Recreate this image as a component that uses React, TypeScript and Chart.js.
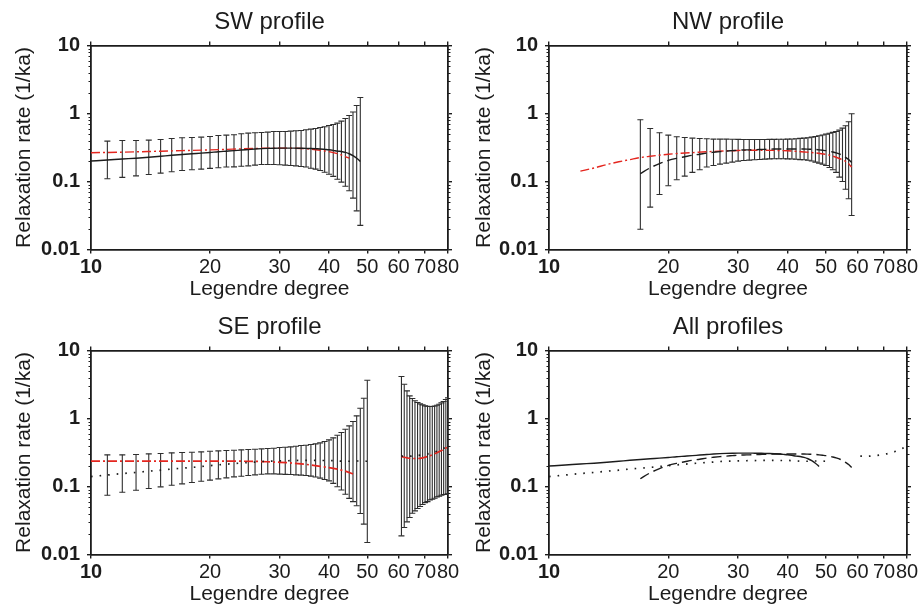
import React, { useEffect, useRef } from 'react';
import { Chart, registerables } from 'chart.js';

Chart.register(...registerables);

// ---------- tick labels ----------
const X_TICKS = [10, 20, 30, 40, 50, 60, 70, 80];
const Y_TICKS = [0.01, 0.1, 1, 10];
const Y_MINOR = [0.02, 0.03, 0.04, 0.05, 0.06, 0.07, 0.08, 0.09, 0.2, 0.3, 0.4, 0.5, 0.6, 0.7, 0.8, 0.9, 2, 3, 4, 5, 6, 7, 8, 9];

// ---------- SW profile ----------
const SW_deg = [10, 11, 12, 13, 14, 15, 16, 17, 18, 19, 20, 21, 22, 23, 24, 25, 26, 27, 28, 29, 30, 31, 32, 33, 34, 35, 36, 37, 38, 39, 40, 41, 42, 43, 44, 45, 46, 47, 48];
const SW_mean = [0.200, 0.207, 0.214, 0.220, 0.227, 0.235, 0.243, 0.250, 0.256, 0.261, 0.267, 0.274, 0.279, 0.284, 0.290, 0.295, 0.300, 0.304, 0.307, 0.309, 0.310, 0.310, 0.310, 0.309, 0.308, 0.307, 0.305, 0.303, 0.301, 0.297, 0.293, 0.287, 0.280, 0.276, 0.268, 0.256, 0.240, 0.220, 0.197];
const SW_hi = [null, 0.393, 0.401, 0.401, 0.406, 0.415, 0.429, 0.439, 0.444, 0.449, 0.460, 0.475, 0.481, 0.486, 0.503, 0.514, 0.520, 0.526, 0.532, 0.544, 0.544, 0.544, 0.550, 0.557, 0.563, 0.576, 0.589, 0.602, 0.623, 0.637, 0.667, 0.690, 0.722, 0.773, 0.845, 0.935, 1.05, 1.31, 1.72];
const SW_lo = [null, 0.110, 0.115, 0.121, 0.127, 0.133, 0.139, 0.145, 0.149, 0.152, 0.156, 0.159, 0.163, 0.164, 0.168, 0.170, 0.174, 0.178, 0.178, 0.178, 0.176, 0.174, 0.172, 0.170, 0.166, 0.163, 0.157, 0.152, 0.145, 0.137, 0.128, 0.119, 0.108, 0.098, 0.085, 0.073, 0.057, 0.037, 0.0226];
const SW_redDeg = [10, 12, 14, 16, 18, 20, 22, 24, 26, 28, 30, 32, 34, 36, 38, 40, 42, 44, 45];
const SW_red = [0.265, 0.270, 0.276, 0.282, 0.287, 0.292, 0.297, 0.302, 0.306, 0.309, 0.310, 0.309, 0.306, 0.299, 0.288, 0.274, 0.257, 0.232, 0.220];

// ---------- NW profile ----------
const NW_deg = [17, 18, 19, 20, 21, 22, 23, 24, 25, 26, 27, 28, 29, 30, 31, 32, 33, 34, 35, 36, 37, 38, 39, 40, 41, 42, 43, 44, 45, 46, 47, 48, 49, 50, 51, 52, 53, 54, 55, 56, 57, 58];
const NW_mean = [0.130, 0.159, 0.183, 0.204, 0.219, 0.231, 0.243, 0.252, 0.262, 0.269, 0.275, 0.280, 0.284, 0.288, 0.291, 0.292, 0.294, 0.296, 0.297, 0.299, 0.300, 0.301, 0.301, 0.301, 0.301, 0.300, 0.300, 0.300, 0.299, 0.298, 0.296, 0.292, 0.288, 0.284, 0.279, 0.272, 0.264, 0.254, 0.242, 0.226, 0.210, 0.190];
const NW_hi = [0.808, 0.602, 0.520, 0.481, 0.454, 0.444, 0.434, 0.429, 0.425, 0.420, 0.420, 0.420, 0.418, 0.416, 0.415, 0.414, 0.414, 0.414, 0.415, 0.416, 0.417, 0.418, 0.419, 0.420, 0.422, 0.426, 0.430, 0.434, 0.440, 0.449, 0.459, 0.470, 0.483, 0.497, 0.512, 0.528, 0.544, 0.569, 0.610, 0.660, 0.755, 0.990];
const NW_lo = [0.0199, 0.042, 0.0645, 0.0865, 0.106, 0.120, 0.136, 0.149, 0.163, 0.172, 0.180, 0.186, 0.193, 0.1995, 0.204, 0.206, 0.2085, 0.211, 0.213, 0.215, 0.216, 0.216, 0.216, 0.215, 0.214, 0.212, 0.210, 0.2085, 0.205, 0.200, 0.193, 0.186, 0.179, 0.172, 0.161, 0.149, 0.136, 0.116, 0.100, 0.077, 0.0557, 0.0316];
const NW_redDeg = [12, 13, 14, 15, 16, 17, 18, 19, 20, 22, 24, 26, 28, 30, 33, 36, 40, 44, 47, 50, 52, 54, 56, 57, 58];
const NW_red = [0.142, 0.158, 0.178, 0.195, 0.210, 0.225, 0.235, 0.244, 0.252, 0.262, 0.270, 0.277, 0.282, 0.286, 0.288, 0.287, 0.283, 0.272, 0.263, 0.250, 0.236, 0.218, 0.198, 0.182, 0.163];

// ---------- SE profile ----------
const SE_degL = [10, 11, 12, 13, 14, 15, 16, 17, 18, 19, 20, 21, 22, 23, 24, 25, 26, 27, 28, 29, 30, 31, 32, 33, 34, 35, 36, 37, 38, 39, 40, 41, 42, 43, 44, 45, 46, 47, 48, 49, 50];
const SE_meanL = [0.140, 0.1475, 0.155, 0.161, 0.168, 0.1736, 0.1807, 0.1858, 0.191, 0.1966, 0.2024, 0.208, 0.2128, 0.2177, 0.2214, 0.2253, 0.2288, 0.2329, 0.2355, 0.2368, 0.2384, 0.239, 0.2397, 0.2407, 0.2425, 0.2423, 0.2425, 0.2418, 0.2414, 0.2413, 0.2422, 0.240, 0.238, 0.236, 0.235, 0.235, 0.236, 0.237, 0.237, 0.236, 0.235];
const SE_hiL = [null, 0.292, 0.292, 0.295, 0.302, 0.305, 0.3125, 0.316, 0.319, 0.323, 0.3305, 0.334, 0.338, 0.342, 0.346, 0.350, 0.353, 0.3575, 0.3616, 0.3657, 0.374, 0.3785, 0.383, 0.3915, 0.400, 0.405, 0.414, 0.4235, 0.438, 0.4585, 0.485, 0.519, 0.568, 0.622, 0.696, 0.779, 0.902, 1.093, 1.417, 1.99, 3.66];
const SE_loL = [null, 0.0745, 0.0825, 0.0882, 0.0933, 0.0988, 0.1045, 0.1093, 0.1144, 0.1197, 0.124, 0.1295, 0.134, 0.1386, 0.1417, 0.145, 0.1483, 0.1517, 0.1534, 0.1534, 0.152, 0.151, 0.150, 0.148, 0.147, 0.145, 0.142, 0.138, 0.133, 0.127, 0.121, 0.111, 0.099, 0.089, 0.077, 0.067, 0.060, 0.052, 0.040, 0.028, 0.015];
const SE_degR = [61, 62, 63, 64, 65, 66, 67, 68, 69, 70, 71, 72, 73, 74, 75, 76, 77, 78, 79, 80];
const SE_meanR = [0.279, 0.279, 0.278, 0.279, 0.281, 0.283, 0.286, 0.289, 0.293, 0.297, 0.302, 0.308, 0.314, 0.321, 0.330, 0.340, 0.352, 0.364, 0.378, 0.392];
const SE_hiR = [4.14, 3.19, 2.55, 2.15, 1.97, 1.82, 1.72, 1.64, 1.586, 1.533, 1.517, 1.50, 1.50, 1.53, 1.57, 1.62, 1.70, 1.777, 1.90, 2.01];
const SE_loR = [0.0188, 0.025, 0.0302, 0.035, 0.0405, 0.0438, 0.0474, 0.0507, 0.0543, 0.058, 0.060, 0.0636, 0.065, 0.0673, 0.0704, 0.072, 0.0745, 0.0762, 0.077, 0.078];
const SE_redDegL = [10, 14, 18, 22, 26, 28, 30, 32, 34, 36, 38, 40, 42, 44, 46];
const SE_redL = [0.236, 0.236, 0.236, 0.236, 0.234, 0.231, 0.227, 0.222, 0.215, 0.207, 0.198, 0.190, 0.180, 0.168, 0.153];
const SE_redDegR = [61, 63, 65, 67, 69, 71, 73, 75, 77, 79, 80];
const SE_redR = [0.275, 0.264, 0.258, 0.258, 0.264, 0.276, 0.293, 0.313, 0.338, 0.367, 0.385];

// ---------- styling ----------
const FONT = '"Liberation Sans", Arial, Helvetica, sans-serif';
const INK = '#1c1c1c';
const BAR = '#2e2e2e';
const RED = '#e4261f';

type Pt = { x: number; y: number | null };

function toPts(deg: number[], vals: (number | null)[]): Pt[] {
  return deg.map((d, i) => ({ x: d, y: vals[i] }));
}

function errPts(deg: number[], lo: (number | null)[], hi: (number | null)[]): Pt[] {
  const out: Pt[] = [];
  deg.forEach((d, i) => {
    if (lo[i] == null || hi[i] == null) return;
    out.push({ x: d, y: lo[i] }, { x: d, y: hi[i] }, { x: d, y: null });
  });
  return out;
}

function errSet(pts: Pt[]) {
  return {
    data: pts,
    borderColor: BAR,
    borderWidth: 1.1,
    pointStyle: 'line',
    pointRadius: 3,
    pointBorderColor: BAR,
    pointBorderWidth: 1.1,
    pointHoverRadius: 3,
    spanGaps: false,
    tension: 0,
    order: 10,
  };
}

function lineSet(pts: Pt[], color: string, dash: number[], width = 1.4) {
  return {
    data: pts,
    borderColor: color,
    borderWidth: width,
    borderDash: dash,
    pointRadius: 0,
    spanGaps: false,
    cubicInterpolationMode: 'monotone',
    order: 1,
  };
}

const DASHDOT = [9, 3, 2, 3];
const DASHED = [10, 5];
const DOTTED = [1.6, 7];

const minorTicks = {
  id: 'minorTicks',
  afterDraw(chart: any) {
    const { ctx, scales } = chart;
    const y = scales.y;
    const y2 = scales.y2;
    ctx.save();
    ctx.strokeStyle = INK;
    ctx.lineWidth = 1.1;
    ctx.beginPath();
    for (const v of Y_MINOR) {
      const py = Math.round(y.getPixelForValue(v)) + 0.5;
      ctx.moveTo(y.right, py);
      ctx.lineTo(y.right - 2.5, py);
      ctx.moveTo(y2.left, py);
      ctx.lineTo(y2.left + 2.5, py);
    }
    ctx.stroke();
    ctx.restore();
  },
};

interface Panel {
  title: string;
  left: number;
  top: number;
  width: number;
  plotLeft: number;
  plotRight: number;
  datasets: any[];
}

const PANELS: Panel[] = [
  {
    title: 'SW profile', left: 0, top: 0, width: 460, plotLeft: 91, plotRight: 448,
    datasets: [
      lineSet(toPts(SW_deg, SW_mean), INK, []),
      lineSet(toPts(SW_redDeg, SW_red), RED, DASHDOT),
      errSet(errPts(SW_deg, SW_lo, SW_hi)),
    ],
  },
  {
    title: 'NW profile', left: 460, top: 0, width: 461, plotLeft: 89, plotRight: 447,
    datasets: [
      lineSet(toPts(NW_deg, NW_mean), INK, DASHED),
      lineSet(toPts(NW_redDeg, NW_red), RED, DASHDOT),
      errSet(errPts(NW_deg, NW_lo, NW_hi)),
    ],
  },
  {
    title: 'SE profile', left: 0, top: 305, width: 460, plotLeft: 91, plotRight: 448,
    datasets: [
      lineSet(toPts(SE_degL, SE_meanL), INK, DOTTED, 1.7),
      lineSet(toPts(SE_degR, SE_meanR), INK, DOTTED, 1.7),
      lineSet(toPts(SE_redDegL, SE_redL), RED, DASHDOT, 1.7),
      lineSet(toPts(SE_redDegR, SE_redR), RED, DASHDOT, 1.7),
      errSet(errPts(SE_degL, SE_loL, SE_hiL)),
      errSet(errPts(SE_degR, SE_loR, SE_hiR)),
    ],
  },
  {
    title: 'All profiles', left: 460, top: 305, width: 461, plotLeft: 89, plotRight: 447,
    datasets: [
      lineSet(toPts(SW_deg, SW_mean), INK, []),
      lineSet(toPts(NW_deg, NW_mean), INK, DASHED),
      lineSet(toPts(SE_degL, SE_meanL), INK, DOTTED, 1.7),
      lineSet(toPts(SE_degR, SE_meanR), INK, DOTTED, 1.7),
    ],
  },
];

const H = 305;
const TOP_H = 45.5;
const BOTTOM_H = 55.5;

function axisCommon() {
  return {
    grid: { drawOnChartArea: false, drawTicks: true, tickLength: 4, color: INK, lineWidth: 1.4 },
    border: { display: true, color: INK, width: 1.8 },
  };
}

function buildConfig(p: Panel): any {
  const setX = (s: any) => { s.ticks = X_TICKS.map((v) => ({ value: v })); };
  const setY = (s: any) => { s.ticks = Y_TICKS.map((v) => ({ value: v })); };
  return {
    type: 'line',
    data: { datasets: p.datasets },
    plugins: [minorTicks],
    options: {
      responsive: false,
      animation: false,
      events: [],
      layout: { padding: 0 },
      plugins: { legend: { display: false }, tooltip: { enabled: false }, title: { display: false } },
      scales: {
        x: {
          type: 'logarithmic', position: 'bottom', min: 10, max: 80,
          afterBuildTicks: setX,
          afterFit: (s: any) => { s.height = BOTTOM_H; s.paddingLeft = 0; s.paddingRight = 0; },
          ...axisCommon(),
          ticks: {
            autoSkip: false, maxRotation: 0, minRotation: 0, padding: 1.5, color: INK,
            font: (c: any) => ({ family: FONT, size: 20, weight: c.tick && c.tick.value === 10 ? 'bold' : 'normal' }),
            callback: (v: any) => String(v),
          },
          title: { display: true, text: 'Legendre degree', color: INK, font: { family: FONT, size: 21 }, padding: { top: 0, bottom: 3 } },
        },
        x2: {
          type: 'logarithmic', position: 'top', min: 10, max: 80,
          afterBuildTicks: setX,
          afterFit: (s: any) => { s.height = TOP_H; s.paddingLeft = 0; s.paddingRight = 0; },
          ...axisCommon(),
          ticks: { display: false, autoSkip: false },
          title: { display: true, text: p.title, color: INK, font: { family: FONT, size: 24 }, padding: { top: 7.6, bottom: 0 } },
        },
        y: {
          type: 'logarithmic', position: 'left', min: 0.01, max: 10,
          afterBuildTicks: setY,
          afterFit: (s: any) => { s.width = p.plotLeft; s.paddingTop = 0; s.paddingBottom = 0; },
          ...axisCommon(),
          ticks: {
            autoSkip: false, padding: 7, color: INK,
            font: { family: FONT, size: 20, weight: 'bold' },
            callback: (v: any) => String(v),
          },
          title: { display: true, text: 'Relaxation rate (1/ka)', color: INK, font: { family: FONT, size: 21 }, padding: { top: 12, bottom: 0 } },
        },
        y2: {
          type: 'logarithmic', position: 'right', min: 0.01, max: 10,
          afterBuildTicks: setY,
          afterFit: (s: any) => { s.width = p.width - p.plotRight; s.paddingTop = 0; s.paddingBottom = 0; },
          ...axisCommon(),
          ticks: { display: false, autoSkip: false },
        },
      },
    },
  };
}

function PanelChart({ panel }: { panel: Panel }) {
  const ref = useRef<HTMLCanvasElement | null>(null);
  useEffect(() => {
    if (!ref.current) return;
    const chart = new Chart(ref.current, buildConfig(panel));
    return () => chart.destroy();
  }, [panel]);
  return (
    <div style={{ position: 'absolute', left: panel.left, top: panel.top, width: panel.width, height: H }}>
      <canvas ref={ref} width={panel.width} height={H} style={{ display: 'block', width: panel.width, height: H }} />
    </div>
  );
}

export default function App() {
  return (
    <div style={{ position: 'fixed', left: 0, top: 0, width: 921, height: 610, background: '#ffffff', overflow: 'hidden' }}>
      {PANELS.map((p) => (
        <PanelChart key={p.title} panel={p} />
      ))}
    </div>
  );
}
